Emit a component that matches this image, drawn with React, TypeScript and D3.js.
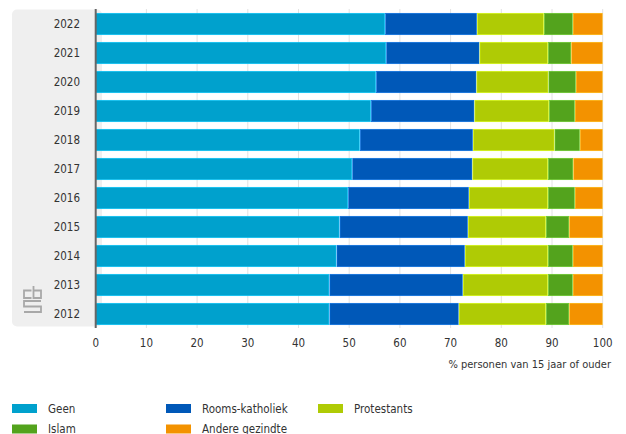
import React from "react";
import * as d3 from "d3";

const years = ["2022", "2021", "2020", "2019", "2018", "2017", "2016", "2015", "2014", "2013", "2012"];
const seriesNames = ["Geen", "Rooms-katholiek", "Protestants", "Islam", "Andere gezindte"];
const seriesColors = ["#00a1cd", "#0058b8", "#afcb05", "#53a31d", "#f39200"];
const geen = [57.1, 57.3, 55.3, 54.3, 52.1, 50.6, 49.8, 48.1, 47.5, 46.1, 46.1];
const roomsKatholiek = [18.1, 18.4, 19.8, 20.4, 22.3, 23.7, 23.8, 25.3, 25.3, 26.3, 25.5];
const protestants = [13.2, 13.5, 14.2, 14.7, 16.1, 14.9, 15.6, 15.4, 16.4, 16.8, 17.2];
const islam = [5.7, 4.6, 5.4, 5.1, 5.0, 5.0, 5.3, 4.6, 4.9, 4.9, 4.6];
const andere = [5.9, 6.2, 5.3, 5.5, 4.5, 5.8, 5.5, 6.6, 5.9, 5.9, 6.6];
const xTicks = [0, 10, 20, 30, 40, 50, 60, 70, 80, 90, 100];
const xLabel = "% personen van 15 jaar of ouder";

const FONT = "'Liberation Sans Narrow', 'DejaVu Sans Condensed', 'Open Sans', sans-serif";
const TEXT = "#333";

export default function App() {
  const W = 626, H = 434;
  const x = d3.scaleLinear().domain([0, 100]).range([95.7, 602.7]);
  const y = d3.scaleBand<string>().domain(years).range([9.5, 328.5]).paddingInner(0.26).paddingOuter(0.13);
  const seriesVals = [geen, roomsKatholiek, protestants, islam, andere];
  const rows = years.map((yr, i) => {
    const o: any = { year: yr };
    seriesNames.forEach((n, k) => (o[n] = seriesVals[k][i]));
    return o;
  });
  const stack = d3.stack<any>().keys(seriesNames)(rows);

  const legendItems = seriesNames.map((n, i) => ({
    name: n,
    color: seriesColors[i],
    col: i % 3,
    row: Math.floor(i / 3),
  }));
  const legendX = [12, 166, 318];
  const legendY = [408.5, 429];

  return (
    <div style={{ position: "absolute", left: 0, top: 0 }}>
      <svg width={W} height={H} style={{ display: "block" }} fontFamily={FONT}>
        <rect x={0} y={0} width={W} height={H} fill="#fff" />
        {/* gray panel */}
        <rect x={12} y={9.5} width={90} height={317} rx={5} fill="#efefef" />
        {/* gridlines */}
        {xTicks.map((t) => (
          <line key={t} x1={x(t)} x2={x(t)} y1={9} y2={328} stroke="#e2e2e2" strokeWidth={1} />
        ))}
        {/* bars */}
        {stack.map((s, k) =>
          s.map((d: any, i: number) => (
            <rect
              key={k + "-" + i}
              x={x(d[0]) + (k === 0 ? 0 : 0.5)}
              y={y(years[i])!}
              width={Math.max(0, x(d[1]) - x(d[0]) - (k === 0 ? 0.5 : 1))}
              height={y.bandwidth()}
              fill={seriesColors[k]}
              stroke={d3.color(seriesColors[k])!.brighter(0.6).formatHex()}
              strokeWidth={0.6}
            />
          ))
        )}
        {/* axis line */}
        <line x1={95.7} x2={95.7} y1={9} y2={328} stroke="#666" strokeWidth={2} />
        {/* year labels */}
        {years.map((yr) => (
          <text key={yr} x={80} y={y(yr)! + y.bandwidth() / 2} dy="0.35em" textAnchor="end" fontSize={11.5} fill={TEXT}>
            {yr}
          </text>
        ))}
        {/* x tick labels */}
        {xTicks.map((t) => (
          <text key={t} x={x(t)} y={343} dy="0.35em" textAnchor="middle" fontSize={11.5} fill={TEXT}>
            {t}
          </text>
        ))}
        <text x={611} y={364} dy="0.35em" textAnchor="end" fontSize={11} fill={TEXT}>
          {xLabel}
        </text>
        {/* cbs logo */}
        <g fill="none" stroke="#a8a8a8" strokeWidth={1.8}>
          <path d="M31.5,290.5 H24 V298 H31.5" />
          <path d="M33.5,286 V298 H41 V290.5 H33.5" />
          <path d="M41,301 H24 V306.5 H41 V312 H24" />
        </g>
        {/* legend */}
        {legendItems.map((l) => (
          <g key={l.name} transform={`translate(${legendX[l.col]},${legendY[l.row]})`}>
            <rect x={0} y={-4.5} width={25} height={9} fill={l.color} />
            <text x={36} y={0} dy="0.35em" fontSize={11.5} fill={TEXT}>
              {l.name}
            </text>
          </g>
        ))}
      </svg>
    </div>
  );
}
